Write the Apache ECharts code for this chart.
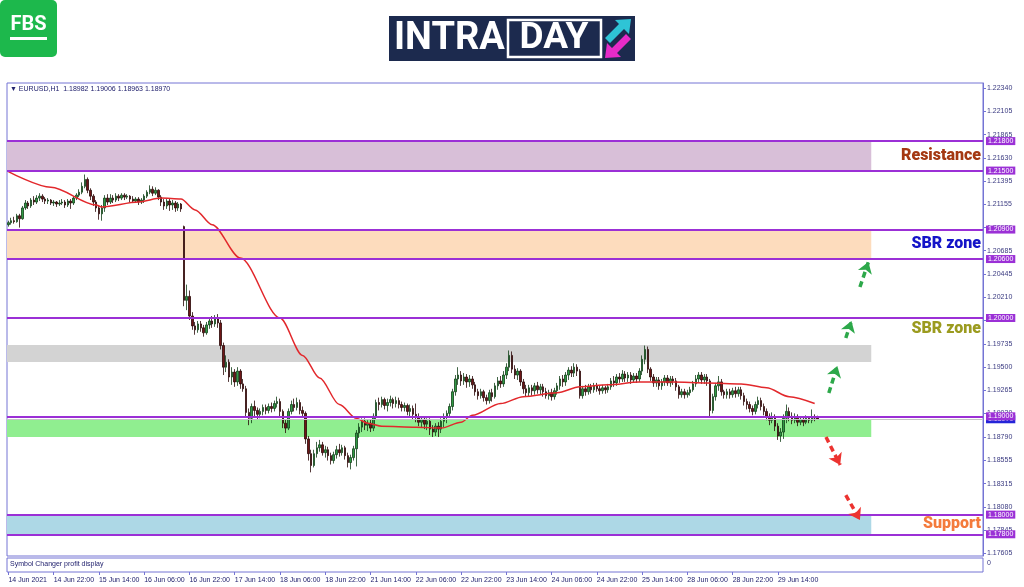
<!DOCTYPE html>
<html><head><meta charset="utf-8">
<script src="https://cdn.jsdelivr.net/npm/echarts@6/dist/echarts.min.js"></script>
<style>html,body{margin:0;padding:0;background:#fff;}#c{width:1024px;height:587px;}</style>
</head><body><div id="c"></div>
<script>
// ---- EURUSD H1 candles, rows are [open, close, low, high] ----
const jun14 = [[1.2095,1.2097,1.2093,1.2099],[1.2097,1.2099,1.2095,1.2102],[1.2099,1.2098,1.2096,1.2103],[1.2098,1.2104,1.2097,1.2106],[1.2104,1.2101,1.2092,1.2106],[1.2101,1.2112,1.2100,1.2114],[1.2112,1.2117,1.2110,1.2120],[1.2117,1.2114,1.2111,1.2119],[1.2114,1.2120,1.2112,1.2122],[1.2120,1.2118,1.2115,1.2124],[1.2118,1.2122,1.2116,1.2125],[1.2122,1.2124,1.2119,1.2127],[1.2124,1.2121,1.2118,1.2126],[1.2121,1.2119,1.2116,1.2123],[1.2119,1.2120,1.2116,1.2122],[1.2120,1.2117,1.2115,1.2121],[1.2117,1.2118,1.2114,1.2120],[1.2118,1.2116,1.2113,1.2119]];
const jun15 = [[1.2116,1.2117,1.2114,1.2120],[1.2117,1.2118,1.2115,1.2121],[1.2118,1.2115,1.2112,1.2120],[1.2115,1.2119,1.2113,1.2121],[1.2119,1.2117,1.2111,1.2121],[1.2117,1.2122,1.2115,1.2124],[1.2122,1.2125,1.2120,1.2127],[1.2125,1.2128,1.2123,1.2131],[1.2128,1.2134,1.2126,1.2138],[1.2134,1.2141,1.2132,1.2146],[1.2141,1.2130,1.2127,1.2143],[1.2130,1.2124,1.2120,1.2132],[1.2124,1.2118,1.2114,1.2126],[1.2118,1.2112,1.2108,1.2120],[1.2112,1.2106,1.2100,1.2114],[1.2106,1.2112,1.2099,1.2115],[1.2112,1.2122,1.2108,1.2125],[1.2122,1.2118,1.2115,1.2126],[1.2118,1.2122,1.2116,1.2126],[1.2122,1.2120,1.2117,1.2125],[1.2120,1.2124,1.2118,1.2127],[1.2124,1.2122,1.2119,1.2126],[1.2122,1.2125,1.2120,1.2127],[1.2125,1.2123,1.2120,1.2127]];
const jun16 = [[1.2123,1.2124,1.2121,1.2126],[1.2124,1.2121,1.2118,1.2125],[1.2121,1.2119,1.2117,1.2124],[1.2119,1.2121,1.2117,1.2123],[1.2121,1.2118,1.2115,1.2123],[1.2118,1.2120,1.2116,1.2122],[1.2120,1.2124,1.2117,1.2126],[1.2124,1.2128,1.2122,1.2130],[1.2128,1.2131,1.2126,1.2135],[1.2131,1.2127,1.2124,1.2134],[1.2127,1.2130,1.2125,1.2133],[1.2130,1.2123,1.2120,1.2131],[1.2123,1.2118,1.2114,1.2125],[1.2118,1.2114,1.2110,1.2121],[1.2114,1.2119,1.2111,1.2121],[1.2119,1.2115,1.2109,1.2122],[1.2115,1.2117,1.2110,1.2120],[1.2117,1.2112,1.2108,1.2119],[1.2112,1.2116,1.2109,1.2118],[1.2116,1.2111,1.2108,1.2117],[1.2093,1.2018,1.2012,1.2094],[1.2018,1.2022,1.2008,1.2034],[1.2022,1.2002,1.1998,1.2028],[1.2002,1.1992,1.1988,1.2006]];
const jun17 = [[1.1992,1.1988,1.1983,1.1996],[1.1988,1.1994,1.1985,1.1997],[1.1994,1.1990,1.1986,1.1997],[1.1990,1.1985,1.1981,1.1993],[1.1985,1.1993,1.1983,1.1996],[1.1993,1.1997,1.1989,1.2000],[1.1997,1.1994,1.1990,1.2002],[1.1994,1.1999,1.1991,1.2003],[1.1999,1.1995,1.1990,1.2004],[1.1995,1.1972,1.1968,1.1998],[1.1972,1.1950,1.1942,1.1975],[1.1950,1.1955,1.1945,1.1962],[1.1955,1.1940,1.1935,1.1958],[1.1940,1.1945,1.1932,1.1950],[1.1945,1.1935,1.1930,1.1948],[1.1935,1.1946,1.1931,1.1950],[1.1946,1.1933,1.1928,1.1948],[1.1933,1.1928,1.1925,1.1938],[1.1928,1.1904,1.1899,1.1931],[1.1904,1.1898,1.1891,1.1908],[1.1898,1.1910,1.1893,1.1913],[1.1910,1.1906,1.1899,1.1916],[1.1906,1.1902,1.1897,1.1909],[1.1902,1.1905,1.1898,1.1908]];
const jun18 = [[1.1905,1.1909,1.1901,1.1912],[1.1909,1.1906,1.1902,1.1912],[1.1906,1.1910,1.1903,1.1913],[1.1910,1.1908,1.1904,1.1914],[1.1908,1.1913,1.1905,1.1916],[1.1913,1.1915,1.1909,1.1920],[1.1915,1.1905,1.1900,1.1918],[1.1905,1.1893,1.1888,1.1907],[1.1893,1.1888,1.1883,1.1897],[1.1888,1.1905,1.1886,1.1908],[1.1905,1.1912,1.1902,1.1916],[1.1912,1.1909,1.1905,1.1918],[1.1909,1.1914,1.1906,1.1919],[1.1914,1.1906,1.1902,1.1917],[1.1906,1.1903,1.1899,1.1910],[1.1903,1.1877,1.1872,1.1905],[1.1877,1.1862,1.1855,1.1880],[1.1862,1.1850,1.1843,1.1866],[1.1850,1.1862,1.1848,1.1866],[1.1862,1.1868,1.1858,1.1874],[1.1868,1.1871,1.1864,1.1876],[1.1871,1.1863,1.1860,1.1874],[1.1863,1.1866,1.1858,1.1870],[1.1866,1.1860,1.1855,1.1869]];
const jun21 = [[1.1860,1.1855,1.1851,1.1863],[1.1855,1.1861,1.1852,1.1864],[1.1861,1.1866,1.1857,1.1870],[1.1866,1.1863,1.1859,1.1872],[1.1863,1.1868,1.1860,1.1871],[1.1868,1.1860,1.1856,1.1870],[1.1860,1.1853,1.1848,1.1863],[1.1853,1.1858,1.1846,1.1861],[1.1858,1.1867,1.1855,1.1870],[1.1867,1.1883,1.1849,1.1886],[1.1883,1.1889,1.1878,1.1893],[1.1889,1.1895,1.1884,1.1898],[1.1895,1.1891,1.1886,1.1898],[1.1891,1.1893,1.1885,1.1896],[1.1893,1.1888,1.1884,1.1897],[1.1888,1.1900,1.1885,1.1903],[1.1900,1.1914,1.1897,1.1917],[1.1914,1.1912,1.1906,1.1919],[1.1912,1.1917,1.1909,1.1920],[1.1917,1.1911,1.1907,1.1919],[1.1911,1.1914,1.1905,1.1918],[1.1914,1.1917,1.1910,1.1921],[1.1917,1.1913,1.1908,1.1919],[1.1913,1.1916,1.1909,1.1920]];
const jun22 = [[1.1916,1.1912,1.1908,1.1919],[1.1912,1.1909,1.1905,1.1915],[1.1909,1.1911,1.1905,1.1914],[1.1911,1.1905,1.1901,1.1913],[1.1905,1.1908,1.1900,1.1912],[1.1908,1.1902,1.1897,1.1911],[1.1902,1.1899,1.1894,1.1913],[1.1899,1.1894,1.1890,1.1903],[1.1894,1.1897,1.1889,1.1900],[1.1897,1.1892,1.1887,1.1900],[1.1892,1.1895,1.1886,1.1898],[1.1895,1.1887,1.1881,1.1898],[1.1887,1.1884,1.1879,1.1891],[1.1884,1.1890,1.1880,1.1893],[1.1890,1.1887,1.1879,1.1894],[1.1887,1.1895,1.1883,1.1898],[1.1895,1.1899,1.1889,1.1903],[1.1899,1.1903,1.1893,1.1906],[1.1903,1.1910,1.1899,1.1913],[1.1910,1.1925,1.1906,1.1928],[1.1925,1.1938,1.1921,1.1942],[1.1938,1.1942,1.1932,1.1950],[1.1942,1.1936,1.1931,1.1946],[1.1936,1.1940,1.1932,1.1944]];
const jun23 = [[1.1940,1.1935,1.1929,1.1943],[1.1935,1.1938,1.1930,1.1942],[1.1938,1.1932,1.1928,1.1941],[1.1932,1.1925,1.1921,1.1935],[1.1925,1.1921,1.1917,1.1928],[1.1921,1.1925,1.1918,1.1928],[1.1925,1.1919,1.1915,1.1927],[1.1919,1.1916,1.1912,1.1922],[1.1916,1.1924,1.1913,1.1927],[1.1924,1.1920,1.1915,1.1928],[1.1920,1.1931,1.1918,1.1934],[1.1931,1.1936,1.1927,1.1940],[1.1936,1.1933,1.1929,1.1941],[1.1933,1.1942,1.1930,1.1946],[1.1942,1.1950,1.1938,1.1954],[1.1950,1.1962,1.1946,1.1967],[1.1962,1.1948,1.1944,1.1966],[1.1948,1.1942,1.1938,1.1952],[1.1942,1.1946,1.1937,1.1949],[1.1946,1.1935,1.1931,1.1948],[1.1935,1.1928,1.1923,1.1938],[1.1928,1.1924,1.1920,1.1932],[1.1924,1.1929,1.1920,1.1932],[1.1929,1.1926,1.1921,1.1932]];
const jun24 = [[1.1926,1.1931,1.1922,1.1934],[1.1931,1.1927,1.1923,1.1935],[1.1927,1.1930,1.1922,1.1933],[1.1930,1.1925,1.1920,1.1933],[1.1925,1.1921,1.1918,1.1929],[1.1921,1.1924,1.1917,1.1927],[1.1924,1.1920,1.1916,1.1928],[1.1920,1.1926,1.1917,1.1929],[1.1926,1.1931,1.1922,1.1934],[1.1931,1.1938,1.1927,1.1941],[1.1938,1.1935,1.1930,1.1942],[1.1935,1.1942,1.1931,1.1945],[1.1942,1.1947,1.1937,1.1950],[1.1947,1.1944,1.1940,1.1951],[1.1944,1.1950,1.1940,1.1954],[1.1950,1.1946,1.1941,1.1953],[1.1946,1.1921,1.1918,1.1948],[1.1921,1.1928,1.1918,1.1931],[1.1928,1.1925,1.1921,1.1932],[1.1925,1.1930,1.1922,1.1933],[1.1930,1.1927,1.1923,1.1933],[1.1927,1.1931,1.1924,1.1934],[1.1931,1.1928,1.1925,1.1934],[1.1928,1.1926,1.1922,1.1931]];
const jun25 = [[1.1926,1.1929,1.1923,1.1932],[1.1929,1.1927,1.1923,1.1931],[1.1927,1.1930,1.1924,1.1933],[1.1930,1.1936,1.1927,1.1939],[1.1936,1.1934,1.1930,1.1941],[1.1934,1.1940,1.1931,1.1943],[1.1940,1.1938,1.1934,1.1944],[1.1938,1.1943,1.1935,1.1947],[1.1943,1.1939,1.1935,1.1946],[1.1939,1.1942,1.1935,1.1945],[1.1942,1.1937,1.1933,1.1945],[1.1937,1.1941,1.1934,1.1944],[1.1941,1.1938,1.1934,1.1944],[1.1938,1.1946,1.1935,1.1949],[1.1946,1.1958,1.1942,1.1962],[1.1958,1.1968,1.1953,1.1972],[1.1968,1.1948,1.1944,1.1971],[1.1948,1.1940,1.1936,1.1950],[1.1940,1.1934,1.1930,1.1943],[1.1934,1.1937,1.1930,1.1940],[1.1937,1.1931,1.1927,1.1940],[1.1931,1.1935,1.1927,1.1938],[1.1935,1.1939,1.1931,1.1942],[1.1939,1.1934,1.1931,1.1942]];
const jun28 = [[1.1934,1.1938,1.1930,1.1941],[1.1938,1.1936,1.1932,1.1941],[1.1936,1.1930,1.1926,1.1939],[1.1930,1.1922,1.1918,1.1932],[1.1922,1.1925,1.1919,1.1928],[1.1925,1.1922,1.1918,1.1928],[1.1922,1.1924,1.1919,1.1927],[1.1924,1.1927,1.1921,1.1930],[1.1927,1.1933,1.1925,1.1936],[1.1933,1.1938,1.1930,1.1942],[1.1938,1.1942,1.1934,1.1945],[1.1942,1.1937,1.1933,1.1945],[1.1937,1.1940,1.1933,1.1943],[1.1940,1.1936,1.1931,1.1943],[1.1936,1.1906,1.1899,1.1938],[1.1906,1.1920,1.1903,1.1923],[1.1920,1.1931,1.1916,1.1934],[1.1931,1.1935,1.1926,1.1941],[1.1935,1.1925,1.1921,1.1938],[1.1925,1.1922,1.1918,1.1927],[1.1922,1.1925,1.1918,1.1928],[1.1925,1.1922,1.1918,1.1928],[1.1922,1.1926,1.1919,1.1929],[1.1926,1.1923,1.1919,1.1930]];
const jun29 = [[1.1923,1.1927,1.1920,1.1930],[1.1927,1.1921,1.1917,1.1930],[1.1921,1.1915,1.1911,1.1924],[1.1915,1.1912,1.1907,1.1918],[1.1912,1.1908,1.1904,1.1915],[1.1908,1.1905,1.1901,1.1911],[1.1905,1.1912,1.1902,1.1915],[1.1912,1.1916,1.1908,1.1920],[1.1916,1.1910,1.1906,1.1919],[1.1910,1.1905,1.1901,1.1913],[1.1905,1.1900,1.1896,1.1908],[1.1900,1.1896,1.1891,1.1903],[1.1896,1.1899,1.1893,1.1904],[1.1899,1.1890,1.1885,1.1902],[1.1890,1.1880,1.1876,1.1893],[1.1880,1.1884,1.1874,1.1888],[1.1884,1.1898,1.1877,1.1902],[1.1898,1.1905,1.1893,1.1912],[1.1905,1.1900,1.1895,1.1909],[1.1900,1.1896,1.1892,1.1904],[1.1896,1.1899,1.1893,1.1903],[1.1899,1.1894,1.1890,1.1902],[1.1894,1.1897,1.1891,1.1900],[1.1897,1.1894,1.1890,1.1900]];
const jun30 = [[1.1894,1.1898,1.1892,1.1901],[1.1898,1.1896,1.1893,1.1900],[1.1896,1.1899,1.1893,1.1907],[1.1899,1.18982,1.1895,1.1902],[1.18982,1.18970,1.18963,1.19006]];

const days = [
  {name:'14 Jun', first:6, bars:jun14},{name:'15 Jun', first:0, bars:jun15},{name:'16 Jun', first:0, bars:jun16},
  {name:'17 Jun', first:0, bars:jun17},{name:'18 Jun', first:0, bars:jun18},{name:'21 Jun', first:0, bars:jun21},
  {name:'22 Jun', first:0, bars:jun22},{name:'23 Jun', first:0, bars:jun23},{name:'24 Jun', first:0, bars:jun24},
  {name:'25 Jun', first:0, bars:jun25},{name:'28 Jun', first:0, bars:jun28},{name:'29 Jun', first:0, bars:jun29},
  {name:'30 Jun', first:0, bars:jun30}
];
const emptySlots = ['30 Jun','1 Jul','2 Jul']; // future time on the right of the chart
const emptySlotCount = 58;

// moving average, [barIndex, value]
const maPoints = [[0,1.2149],[15,1.2133],[31,1.2115],[33,1.2113],[46,1.2118],[54,1.2122],[61,1.2121],[66,1.2110],[72,1.2095],[82,1.2061],[96,1.2000],[104,1.1962],[110,1.1939],[117,1.1912],[123,1.1898],[127,1.1893],[132,1.1890],[144,1.1889],[153,1.1888],[160,1.1894],[164,1.1901],[174,1.1913],[182,1.1920],[194,1.1924],[202,1.1930],[212,1.1932],[223,1.1935],[235,1.1935],[247,1.1934],[259,1.1933],[268,1.1929],[276,1.1920],[285,1.1913]];

const levels = [1.218, 1.215, 1.209, 1.206, 1.200, 1.190, 1.180, 1.178];
const zoneTops    = [1.2180, 1.2090, 1.19725, 1.18970, 1.1800];
const zoneBottoms = [1.2150, 1.2060, 1.19552, 1.18789, 1.1780];
const zoneColors  = ['#d8bfd8', '#fddcbd', '#d3d3d3', '#90ee90', '#add8e6'];
const zoneEndBar = 305;
const noteTexts   = ['Resistance', 'SBR zone', 'SBR zone', 'Support'];
const noteTops    = [1.2180, 1.2090, 1.1999, 1.1800];
const noteBottoms = [1.2150, 1.2060, 1.1978, 1.1780];
const noteColors  = ['#a43812', '#1414c8', '#9b9b1f', '#f47b3c'];
// projected moves: [fromBar, fromPrice, toBar, toPrice]
const upArrows   = [[290,1.19237,293,1.19512],[296,1.19797,298,1.19969],[301,1.20315,304,1.20570]];
const downArrows = [[289,1.18789,294,1.18505],[296,1.18199,301,1.17945]];
const yTickValues = [1.22340,1.22105,1.21865,1.21630,1.21395,1.21155,1.20920,1.20685,1.20445,1.20210,1.19975,1.19735,1.19500,1.19265,1.19030,1.18790,1.18555,1.18315,1.18080,1.17845,1.17605];
const xTickLabels = ['14 Jun 2021','14 Jun 22:00','15 Jun 14:00','16 Jun 06:00','16 Jun 22:00','17 Jun 14:00','18 Jun 06:00','18 Jun 22:00','21 Jun 14:00','22 Jun 06:00','22 Jun 22:00','23 Jun 14:00','24 Jun 06:00','24 Jun 22:00','25 Jun 14:00','28 Jun 06:00','28 Jun 22:00','29 Jun 14:00'];
const xTickStep = 16;
const yMin = 1.17579, yMax = 1.22391;

// ---- build ----
const candles = [];
const categories = [];
const pad = n => (n < 10 ? '0' : '') + n;
days.forEach(d => d.bars.forEach((b, k) => { candles.push(b); categories.push(d.name + ' ' + pad(d.first + k) + ':00'); }));
let hr = 5, di = 0;
for (let k = 0; k < emptySlotCount; k++) {
  categories.push(emptySlots[di] + ' ' + pad(hr) + ':00');
  hr++; if (hr > 23) { hr = 0; di = Math.min(di + 1, emptySlots.length - 1); }
}
const last = candles[candles.length - 1];
const header = '\u25BC EURUSD,H1  ' + [last[0], last[3], last[2], last[1]].map(v => v.toFixed(5)).join(' ');

const frameColor = '#7474d4';
const purple = '#9b30d6';
const axisFont = 'Liberation Sans';

const levelLines = [{
  yAxis: last[1],
  lineStyle: {color: '#c4c4c4', width: 1, type: 'solid'},
  label: {backgroundColor: '#2424d8'}
}].concat(levels.map(v => ({yAxis: v})));

const zoneAreas = zoneTops.map((t, i) => [
  {yAxis: t, itemStyle: {color: zoneColors[i]}},
  {xAxis: zoneEndBar, yAxis: zoneBottoms[i]}
]);
const noteAreas = noteTexts.map((t, i) => [
  {xAxis: zoneEndBar, yAxis: noteTops[i], name: t,
   itemStyle: {color: 'rgba(255,255,255,0)'},
   label: {show: true, position: 'insideRight', distance: 2, formatter: t, color: noteColors[i],
           fontSize: 16, fontWeight: 900, fontFamily: 'Roboto'}},
  {yAxis: noteBottoms[i]}
]);
const arrowLines = upArrows.map(a => [
  {coord: [a[0], a[1]], lineStyle: {color: '#2da84a'}, itemStyle: {color: '#2da84a'}},
  {coord: [a[2], a[3]]}
]).concat(downArrows.map(a => [
  {coord: [a[0], a[1]], lineStyle: {color: '#ec3330'}, itemStyle: {color: '#ec3330'}},
  {coord: [a[2], a[3]]}
]));

const showTick = idx => idx % xTickStep === 0 && idx / xTickStep < xTickLabels.length;

const chart = echarts.init(document.getElementById('c'), null, {renderer: 'canvas'});
chart.setOption({
  animation: false,
  backgroundColor: '#ffffff',
  title: [
    {text: header, left: 10, top: 86, padding: 0, textStyle: {fontSize: 7, fontWeight: 'normal', color: '#22226e', fontFamily: axisFont}},
    {text: 'Symbol Changer profit display', left: 10, top: 561, padding: 0, textStyle: {fontSize: 7, fontWeight: 'normal', color: '#22226e', fontFamily: axisFont}}
  ],
  grid: [
    {left: 7, right: 41, top: 83, height: 473, show: true, borderColor: frameColor, borderWidth: 1, backgroundColor: 'transparent'},
    {left: 7, right: 41, top: 558, height: 14, show: true, borderColor: frameColor, borderWidth: 1, backgroundColor: 'transparent'}
  ],
  xAxis: [
    {type: 'category', gridIndex: 0, data: categories, show: false},
    {type: 'category', gridIndex: 1, data: categories,
     axisLine: {show: false},
     axisTick: {show: true, alignWithLabel: true, interval: showTick, length: 3, lineStyle: {color: frameColor}},
     axisLabel: {interval: showTick, align: 'left', margin: 5, fontSize: 7, color: '#22226e', fontFamily: axisFont,
                 formatter: (v, idx) => xTickLabels[idx / xTickStep] || ''}}
  ],
  yAxis: [
    {type: 'value', gridIndex: 0, position: 'right', min: yMin, max: yMax, splitLine: {show: false},
     axisLine: {show: true, lineStyle: {color: frameColor}},
     axisTick: {show: true, length: 3, customValues: yTickValues, lineStyle: {color: frameColor}},
     axisLabel: {customValues: yTickValues, margin: 4, fontSize: 7, color: '#3a3a80', fontFamily: axisFont,
                 formatter: v => Number(v).toFixed(5)}},
    {type: 'value', gridIndex: 1, show: false}
  ],
  series: [
    {
      type: 'candlestick', name: 'EURUSD', xAxisIndex: 0, yAxisIndex: 0, data: candles, barWidth: 2,
      itemStyle: {color: '#2f9a44', color0: '#6e1616', borderColor: '#123f18', borderColor0: '#2a0808', borderWidth: 0.8},
      markArea: {silent: true, data: zoneAreas.concat(noteAreas)},
      markLine: {silent: true, symbol: ['none', 'none'], precision: 5,
        lineStyle: {color: purple, width: 2, type: 'solid'},
        label: {position: 'end', distance: 3, formatter: p => Number(p.value).toFixed(5), color: '#ffffff',
                backgroundColor: purple, fontSize: 7, fontFamily: axisFont, padding: [1, 2, 0, 2]},
        data: levelLines}
    },
    {
      type: 'line', name: 'MA', xAxisIndex: 0, yAxisIndex: 0, data: maPoints, showSymbol: false, symbol: 'none',
      smooth: 0.3, smoothMonotone: 'x', lineStyle: {color: '#e2282c', width: 1.5}, z: 3,
      markLine: {silent: true, symbol: ['none', 'arrow'], symbolSize: 11, precision: 5,
        lineStyle: {width: 3.5, type: [6, 4]}, label: {show: false}, data: arrowLines}
    }
  ],
  graphic: [
    {type: 'rect', shape: {x: 0, y: 0, width: 57, height: 57, r: 5}, style: {fill: '#1db84c'}},
    {type: 'text', style: {text: 'FBS', x: 28.5, y: 25, fill: '#ffffff', font: 'bold 20px Roboto', align: 'center', verticalAlign: 'middle'}},
    {type: 'rect', shape: {x: 10, y: 37, width: 37, height: 3}, style: {fill: '#ffffff'}},
    {type: 'rect', shape: {x: 389, y: 16, width: 246, height: 45}, style: {fill: '#1c2a4e'}},
    {type: 'text', style: {text: 'INTRA', x: 394, y: 39, fill: '#ffffff', font: 'bold 38px Roboto', verticalAlign: 'middle'}},
    {type: 'rect', shape: {x: 508, y: 20, width: 93, height: 37}, style: {fill: 'none', stroke: '#ffffff', lineWidth: 2.5}},
    {type: 'text', style: {text: 'DAY', x: 554, y: 39, fill: '#ffffff', font: 'bold 37px Roboto', align: 'center', verticalAlign: 'middle'}},
    {type: 'polygon', shape: {points: [[631,19],[629,34],[624,29],[610,43],[605,38],[619,24],[615,20]]}, style: {fill: '#2ec4d6'}},
    {type: 'polygon', shape: {points: [[605,58],[607,43],[612,48],[626,34],[631,39],[617,53],[621,57]]}, style: {fill: '#e62bc8'}},
    {type: 'text', style: {text: '0', x: 987, y: 560, fill: '#3a3a80', font: '7px Liberation Sans'}}
  ]
});
</script></body></html>
